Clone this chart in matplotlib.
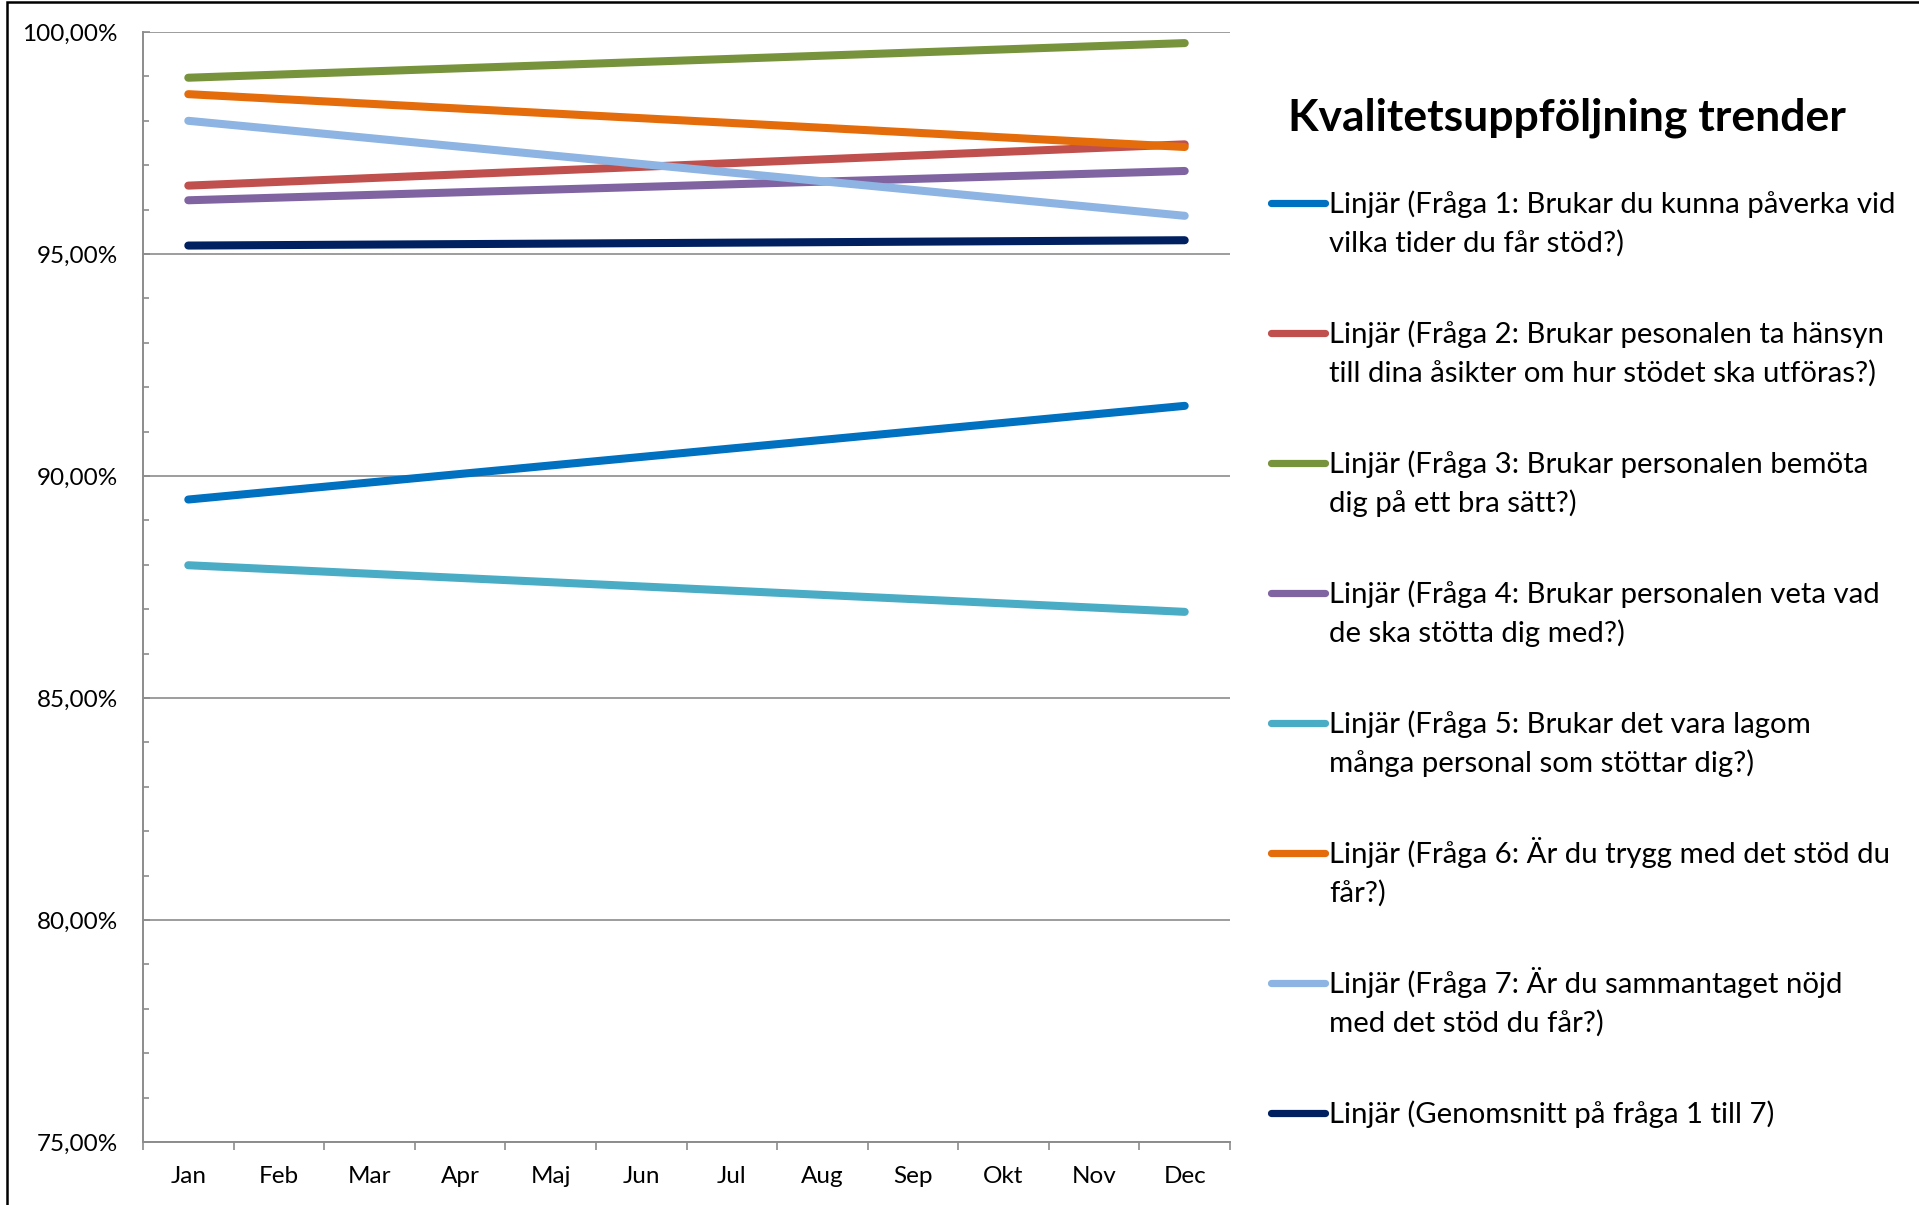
"""
Kvalitetsuppföljning trender

Linear trend lines (Linjär) for the seven quality questions plus the
average, drawn January to December on a 75-100 % axis.
"""

import matplotlib
matplotlib.use("Agg")
import matplotlib.pyplot as plt
from matplotlib.lines import Line2D
from matplotlib.patches import Rectangle
from matplotlib.ticker import MultipleLocator, FuncFormatter, FixedLocator

# Figure size in pixels (dpi 100)
W, H = 1919, 1205

# Categories on the x axis
months = ["Jan", "Feb", "Mar", "Apr", "Maj", "Jun",
          "Jul", "Aug", "Sep", "Okt", "Nov", "Dec"]

# Trend line values (percent) at the first and last month
jan_values = [89.47, 96.54, 98.97, 96.21, 87.99, 98.60, 98.00, 95.19]
dec_values = [91.58, 97.47, 99.75, 96.87, 86.94, 97.41, 95.86, 95.31]

series_labels = [
    "Linjär (Fråga 1: Brukar du kunna påverka vid\nvilka tider du får stöd?)",
    "Linjär (Fråga 2: Brukar pesonalen ta hänsyn\ntill dina åsikter om hur stödet ska utföras?)",
    "Linjär (Fråga 3: Brukar personalen bemöta\ndig på ett bra sätt?)",
    "Linjär (Fråga 4: Brukar personalen veta vad\nde ska stötta dig med?)",
    "Linjär (Fråga 5: Brukar det vara lagom\nmånga personal som stöttar dig?)",
    "Linjär (Fråga 6: Är du trygg med det stöd du\nfår?)",
    "Linjär (Fråga 7: Är du sammantaget nöjd\nmed det stöd du får?)",
    "Linjär (Genomsnitt på fråga 1 till 7)",
]

colors = ["#0070C0", "#C0504D", "#77933C", "#8064A2",
          "#4BACC6", "#E46C0A", "#8DB4E2", "#002060"]

title = "Kvalitetsuppföljning trender"

plt.rcParams["font.family"] = ["Lato", "DejaVu Sans"]
GRAY = "#8C8C8C"


def fx(px):
    """Pixel x -> figure fraction."""
    return px / W


def fy(py):
    """Pixel y (from top) -> figure fraction."""
    return 1 - py / H


fig = plt.figure(figsize=(W / 100, H / 100), dpi=100)
ax = fig.add_axes([fx(143), fy(1142), fx(1230) - fx(143), fy(32) - fy(1142)])

# Trend lines
x_pos = [0, len(months) - 1]
for jan, dec, c in zip(jan_values, dec_values, colors):
    ax.plot(x_pos, [jan, dec], color=c, linewidth=5.8,
            solid_capstyle="round", zorder=3)

# Y axis
ax.set_ylim(75, 100)
ax.yaxis.set_major_locator(MultipleLocator(5))
ax.yaxis.set_minor_locator(MultipleLocator(1))
ax.yaxis.set_major_formatter(
    FuncFormatter(lambda v, pos: f"{v:.2f}".replace(".", ",") + "%"))
ax.tick_params(axis="y", which="both", direction="in", color=GRAY,
               width=1.2, labelsize=17.5, pad=18)
ax.tick_params(axis="y", which="major", length=5)
ax.tick_params(axis="y", which="minor", length=4.5)
ax.grid(axis="y", which="major", color=GRAY, linewidth=1.2, zorder=1)

# X axis: labels at category centres, tick marks at category borders
ax.set_xlim(-0.5, len(months) - 0.5)
ax.set_xticks(range(len(months)))
ax.set_xticklabels(months)
ax.xaxis.set_minor_locator(FixedLocator([i - 0.5 for i in range(len(months) + 1)]))
ax.tick_params(axis="x", which="major", length=0, labelsize=17.5, pad=17)
ax.tick_params(axis="x", which="minor", direction="out", length=6,
               width=1.2, color=GRAY)

for side in ["top", "right"]:
    ax.spines[side].set_visible(False)
for side in ["left", "bottom"]:
    ax.spines[side].set_color(GRAY)
    ax.spines[side].set_linewidth(1.4)

# Title
fig.text(fx(1288), fy(131), title, fontsize=32, fontweight="bold",
         ha="left", va="baseline")

# Legend drawn by hand so the key sits on the first line of each label
for i, (label, c) in enumerate(zip(series_labels, colors)):
    y_line = 203 + 130 * i
    fig.add_artist(Line2D([fx(1271), fx(1325)], [fy(y_line), fy(y_line)],
                          color=c, linewidth=5.2, solid_capstyle="round"))
    for j, part in enumerate(label.split("\n")):
        fig.text(fx(1329), fy(y_line + 10 + 39 * j), part, fontsize=21.2,
                 ha="left", va="baseline")

# Outer chart frame
fig.add_artist(Rectangle((fx(7), -0.05), 1.2, fy(2) + 0.05, fill=False,
                         edgecolor="black", linewidth=1.8,
                         transform=fig.transFigure))

fig.savefig("out.png", dpi=100)
